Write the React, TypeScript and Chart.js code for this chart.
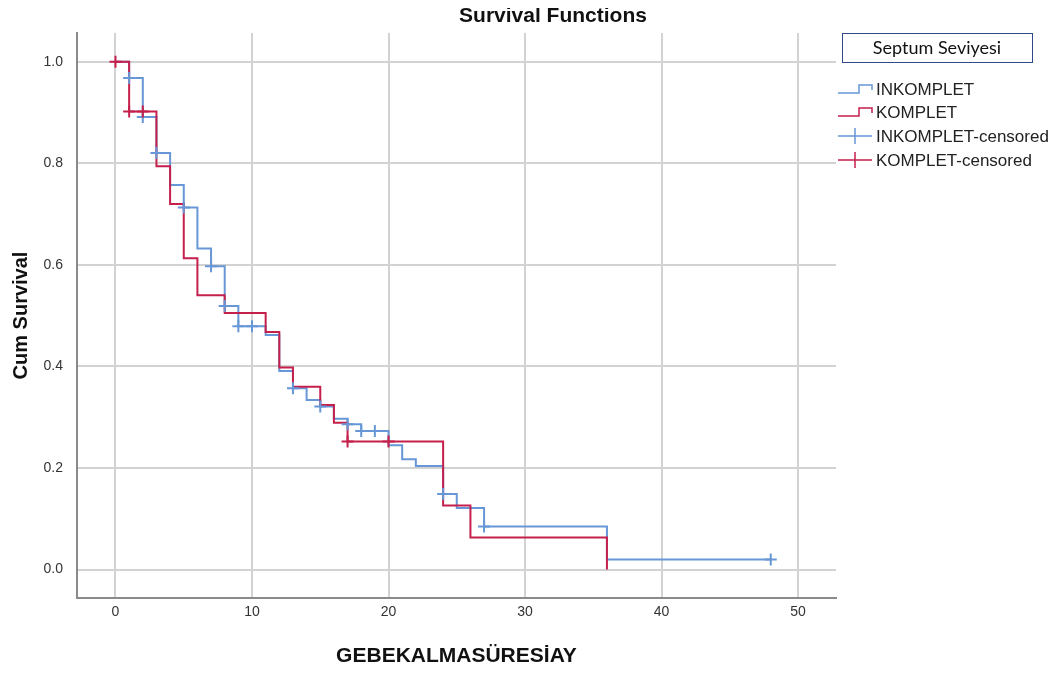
import React, { useEffect, useRef } from "react";
import { Chart, registerables } from "chart.js";

Chart.register(...registerables);

const chartTitle = "Survival Functions";
const xTitle = "GEBEKALMASÜRESİAY";
const yTitle = "Cum Survival";
const legendTitle = "Septum Seviyesi";
const legendLabels = ["INKOMPLET", "KOMPLET", "INKOMPLET-censored", "KOMPLET-censored"];

const xTicks = [0, 10, 20, 30, 40, 50];
const yTicks = [0, 0.2, 0.4, 0.6, 0.8, 1.0];

// INKOMPLET (blue) step curve
const inkTimes = [0, 1, 2, 3, 4, 5, 6, 7, 8, 9, 11, 12, 13, 14, 15, 16, 17, 18, 20, 21, 22, 24, 25, 27, 36, 48];
const inkSurv = [1.0, 0.968, 0.891, 0.82, 0.757, 0.713, 0.632, 0.597, 0.519, 0.479, 0.462, 0.391, 0.357, 0.334, 0.321, 0.297, 0.286, 0.273, 0.245, 0.217, 0.204, 0.149, 0.121, 0.085, 0.02, 0.02];
// INKOMPLET censored
const inkCensTimes = [1, 2, 3, 5, 7, 8, 9, 10, 13, 15, 17, 18, 19, 24, 27, 48];
const inkCensSurv = [0.968, 0.891, 0.82, 0.713, 0.597, 0.519, 0.479, 0.479, 0.357, 0.321, 0.286, 0.273, 0.273, 0.149, 0.085, 0.02];

// KOMPLET (red) step curve
const komTimes = [0, 1, 3, 4, 5, 6, 8, 11, 12, 13, 15, 16, 17, 24, 26, 36];
const komSurv = [1.0, 0.902, 0.794, 0.72, 0.613, 0.54, 0.505, 0.468, 0.398, 0.36, 0.324, 0.289, 0.252, 0.126, 0.063, 0.0];
// KOMPLET censored
const komCensTimes = [0, 1, 2, 17, 20];
const komCensSurv = [1.0, 0.902, 0.902, 0.252, 0.252];

const BLUE = "#6797d6";
const RED = "#c51f4c";
const FONT = "'Liberation Sans', Arial, sans-serif";

const toPts = (xs: number[], ys: number[]) => xs.map((x, i) => ({ x, y: ys[i] }));

const overlayPlugin = {
  id: "overlay",
  afterDraw(chart: any) {
    const ctx = chart.ctx as CanvasRenderingContext2D;
    ctx.save();
    // main title
    ctx.fillStyle = "#111";
    ctx.font = `bold 21px ${FONT}`;
    ctx.textAlign = "center";
    ctx.textBaseline = "middle";
    ctx.fillText(chartTitle, 545, 8);

    // legend title box
    ctx.strokeStyle = "#2f4a86";
    ctx.lineWidth = 1;
    ctx.strokeRect(834.5, 25.5, 190, 29);
    ctx.fillStyle = "#111";
    ctx.font = `18px Lato, 'Noto Sans', sans-serif`;
    ctx.fillText(legendTitle, 929, 40);

    const rows = [81, 104, 128, 152];
    const colors = [BLUE, RED, BLUE, RED];
    ctx.textAlign = "left";
    ctx.font = `17px ${FONT}`;
    rows.forEach((y, i) => {
      ctx.strokeStyle = colors[i];
      ctx.lineWidth = 1.5;
      ctx.beginPath();
      if (i < 2) {
        ctx.moveTo(830, y + 4);
        ctx.lineTo(851, y + 4);
        ctx.lineTo(851, y - 4);
        ctx.lineTo(864, y - 4);
        ctx.lineTo(864, y + 1);
      } else {
        ctx.moveTo(830, y);
        ctx.lineTo(864, y);
        ctx.moveTo(847, y - 8);
        ctx.lineTo(847, y + 8);
      }
      ctx.stroke();
      ctx.fillStyle = "#222";
      ctx.fillText(legendLabels[i], 868, y + 1);
    });
    ctx.restore();
  },
};

export default function App() {
  const ref = useRef<HTMLCanvasElement>(null);
  useEffect(() => {
    if (!ref.current) return;
    const chart = new Chart(ref.current, {
      type: "line",
      data: {
        datasets: [
          {
            label: legendLabels[3],
            data: toPts(komCensTimes, komCensSurv),
            showLine: false,
            pointStyle: "cross",
            pointRadius: 6,
            pointBorderWidth: 2,
            borderColor: RED,
            backgroundColor: RED,
            order: 0,
          },
          {
            label: legendLabels[2],
            data: toPts(inkCensTimes, inkCensSurv),
            showLine: false,
            pointStyle: "cross",
            pointRadius: 6,
            pointBorderWidth: 2,
            borderColor: BLUE,
            backgroundColor: BLUE,
            order: 1,
          },
          {
            label: legendLabels[1],
            data: toPts(komTimes, komSurv),
            stepped: "before",
            borderColor: RED,
            borderWidth: 2,
            pointRadius: 0,
            fill: false,
            order: 2,
          },
          {
            label: legendLabels[0],
            data: toPts(inkTimes, inkSurv),
            stepped: "before",
            borderColor: BLUE,
            borderWidth: 2,
            pointRadius: 0,
            fill: false,
            order: 3,
          },
        ],
      },
      options: {
        responsive: false,
        animation: false,
        layout: { padding: { left: 0, top: 25, right: 217, bottom: 0 } },
        plugins: {
          legend: { display: false },
          title: { display: false },
          tooltip: { enabled: false },
        },
        scales: {
          x: {
            type: "linear",
            min: -2.82,
            max: 52.78,
            afterBuildTicks: (s: any) => {
              s.ticks = xTicks.map((v) => ({ value: v }));
            },
            afterFit: (s: any) => {
              s.height = 67;
            },
            grid: { color: "#d2d2d2", lineWidth: 2, drawTicks: false },
            border: { display: true, color: "#8a8a8a", width: 2 },
            ticks: {
              padding: 6,
              color: "#333",
              font: { family: FONT, size: 14 },
              callback: (v: any) => String(v),
            },
            title: {
              display: true,
              text: xTitle,
              color: "#111",
              font: { family: FONT, size: 21, weight: "bold", lineHeight: 1 },
              padding: { top: 0, bottom: -1.5 },
            },
          },
          y: {
            type: "linear",
            min: -0.056,
            max: 1.0565,
            afterBuildTicks: (s: any) => {
              s.ticks = yTicks.map((v) => ({ value: v }));
            },
            afterFit: (s: any) => {
              s.width = 69;
            },
            grid: { color: "#d2d2d2", lineWidth: 2, drawTicks: false },
            border: { display: true, color: "#8a8a8a", width: 2 },
            ticks: {
              padding: 14,
              color: "#333",
              font: { family: FONT, size: 14 },
              callback: (v: any) => Number(v).toFixed(1),
            },
            title: {
              display: true,
              text: yTitle,
              color: "#111",
              font: { family: FONT, size: 20, weight: "bold", lineHeight: 1 },
              padding: { top: 3, bottom: 0 },
            },
          },
        },
      },
      plugins: [overlayPlugin],
    });
    return () => chart.destroy();
  }, []);
  return (
    <div style={{ width: 1045, height: 657, background: "#fff" }}>
      <canvas ref={ref} width={1045} height={657} style={{ display: "block" }} />
    </div>
  );
}
